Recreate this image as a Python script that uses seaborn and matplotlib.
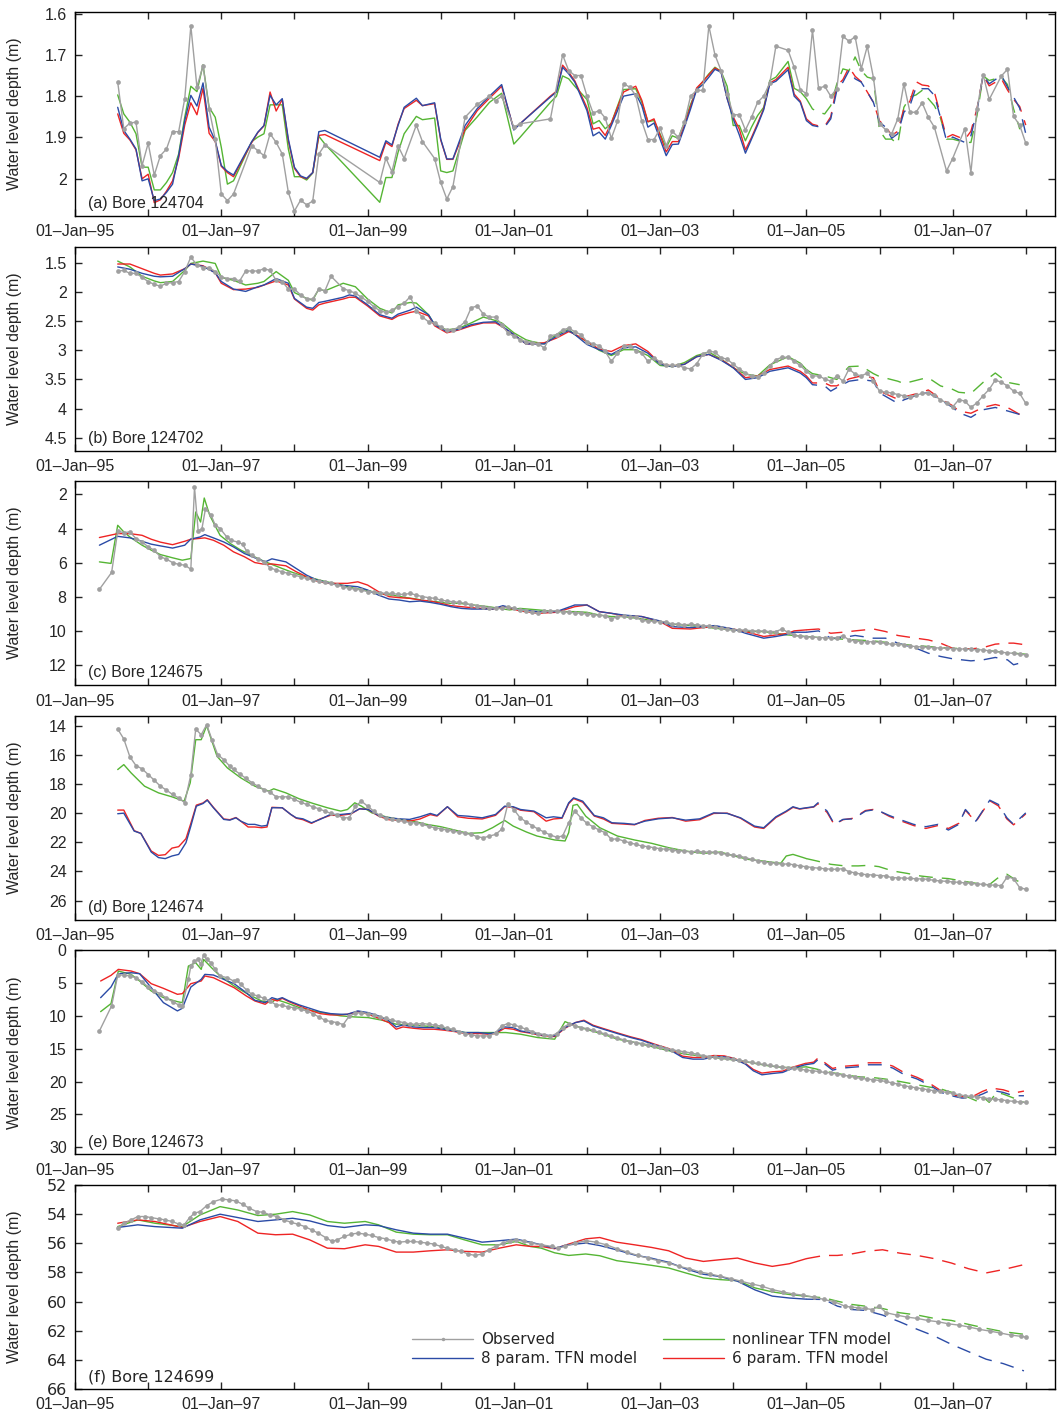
import numpy as np
import matplotlib
matplotlib.use("Agg")
import matplotlib.pyplot as plt
from matplotlib.lines import Line2D
import seaborn as sns

# time axis: months counted from 01-Jan-1995 (0 = Jan 1995)
# models are calibrated up to 01-Jan-2005 (month 120) and drawn dashed after it
CAL_END = 120

# ---------------- (a) Bore 124704 ----------------
a_obs_m = (list(range(7, 27)) + list(range(29, 42))
           + [50, 51, 52, 53, 54, 56, 57, 59, 60, 61, 62, 64, 66, 68, 69, 70, 72, 73, 78, 80, 81, 82, 83]
           + list(range(84, 116)) + list(range(117, 142))
           + [143, 144, 146, 147, 148, 149, 150, 152, 153, 154, 155, 156])
a_obs = ([1.766, 1.879, 1.865, 1.863, 1.968, 1.914, 1.991, 1.944, 1.928, 1.886, 1.886, 1.806, 1.630, 1.778,
          1.726, 1.831, 1.904, 2.037, 2.053, 2.037]
         + [1.920, 1.932, 1.944, 1.891, 1.912, 1.940, 2.033, 2.078, 2.052, 2.063, 2.054, 1.940, 1.918]
         + [2.009, 1.950, 1.983, 1.920, 1.951, 1.870, 1.910, 1.951, 2.009, 2.049, 2.019, 1.851, 1.820, 1.800,
            1.811, 1.800, 1.875, 1.867, 1.855, 1.700, 1.738, 1.750, 1.750]
         + [1.800, 1.841, 1.835, 1.853, 1.902, 1.861, 1.770, 1.778, 1.798, 1.861, 1.905, 1.905, 1.878, 1.920,
            1.885, 1.900, 1.863, 1.800, 1.786, 1.786, 1.630, 1.700, 1.738, 1.794, 1.845, 1.845, 1.882, 1.851,
            1.815, 1.800, 1.768, 1.679]
         + [1.689, 1.730, 1.784, 1.794, 1.640, 1.781, 1.776, 1.800, 1.782, 1.655, 1.667, 1.656, 1.734, 1.679,
            1.755, 1.867, 1.881, 1.891, 1.855, 1.770, 1.839, 1.839, 1.816, 1.851, 1.875]
         + [1.981, 1.951, 1.879, 1.985, 1.831, 1.748, 1.808, 1.751, 1.735, 1.849, 1.870, 1.914])
a_mod_m = (list(range(7, 27)) + list(range(29, 42))
           + [50, 51, 52, 53, 54, 56, 57, 59, 60, 61, 62, 64, 66, 68, 70, 72]
           + [73, 78, 79, 80, 81, 82, 84, 85, 86, 87, 88, 90, 92, 93, 94, 95]
           + list(range(97, 116)) + list(range(117, 145))
           + [146, 147, 148, 149, 150, 152, 153, 154, 155, 156])
a_tfn8 = ([1.827, 1.883, 1.904, 1.928, 2.005, 2.000, 2.053, 2.049, 2.033, 2.013, 1.944, 1.859, 1.798, 1.824,
           1.768, 1.875, 1.908, 1.968, 1.982, 1.991]
          + [1.910, 1.887, 1.871, 1.798, 1.821, 1.806, 1.904, 1.972, 1.993, 1.999, 1.985, 1.886, 1.883]
          + [1.948, 1.908, 1.918, 1.871, 1.827, 1.805, 1.823, 1.816, 1.904, 1.952, 1.952, 1.871, 1.830, 1.800,
             1.772, 1.882]
          + [1.867, 1.802, 1.790, 1.730, 1.746, 1.766, 1.835, 1.896, 1.887, 1.904, 1.871, 1.800, 1.794, 1.823,
             1.875, 1.865]
          + [1.944, 1.917, 1.916, 1.875, 1.831, 1.784, 1.772, 1.754, 1.735, 1.742, 1.806, 1.855, 1.894, 1.938,
             1.904, 1.870, 1.833, 1.770, 1.764]
          + [1.736, 1.800, 1.815, 1.859, 1.871, 1.874, 1.875, 1.855, 1.786, 1.766, 1.738, 1.758, 1.766, 1.790,
             1.815, 1.863, 1.875, 1.902, 1.891, 1.839, 1.823, 1.778, 1.782, 1.782, 1.798, 1.851, 1.908, 1.899]
          + [1.912, 1.896, 1.835, 1.748, 1.770, 1.750, 1.778, 1.802, 1.829, 1.891])
a_tfn6 = ([1.843, 1.890, 1.906, 1.930, 2.000, 1.989, 2.058, 2.051, 2.030, 2.005, 1.950, 1.870, 1.816, 1.845,
           1.781, 1.890, 1.910, 1.970, 1.985, 1.995]
          + [1.912, 1.888, 1.872, 1.790, 1.836, 1.808, 1.908, 1.975, 1.995, 2.000, 1.985, 1.895, 1.893]
          + [1.956, 1.912, 1.922, 1.868, 1.830, 1.810, 1.823, 1.818, 1.906, 1.953, 1.953, 1.880, 1.835, 1.805,
             1.776, 1.880]
          + [1.867, 1.800, 1.788, 1.725, 1.742, 1.763, 1.828, 1.880, 1.876, 1.895, 1.865, 1.790, 1.776, 1.810,
             1.862, 1.855]
          + [1.935, 1.910, 1.910, 1.870, 1.825, 1.780, 1.765, 1.748, 1.732, 1.740, 1.805, 1.850, 1.880, 1.930,
             1.900, 1.866, 1.830, 1.768, 1.760]
          + [1.730, 1.795, 1.812, 1.855, 1.868, 1.872, 1.873, 1.850, 1.775, 1.760, 1.730, 1.752, 1.765, 1.790,
             1.815, 1.860, 1.873, 1.895, 1.885, 1.830, 1.812, 1.765, 1.773, 1.775, 1.790, 1.845, 1.900, 1.893]
          + [1.905, 1.885, 1.830, 1.750, 1.775, 1.758, 1.785, 1.808, 1.825, 1.870])
a_nl = ([1.797, 1.843, 1.863, 1.891, 1.972, 1.972, 2.027, 2.027, 2.009, 1.985, 1.940, 1.851, 1.776, 1.789,
         1.724, 1.827, 1.851, 1.924, 2.013, 2.005]
        + [1.910, 1.899, 1.891, 1.821, 1.821, 1.821, 1.928, 1.995, 1.995, 2.003, 1.986, 1.897, 1.916]
        + [2.057, 1.997, 1.997, 1.936, 1.891, 1.849, 1.857, 1.853, 1.981, 1.985, 1.981, 1.883, 1.850, 1.815,
           1.793, 1.916]
        + [1.900, 1.815, 1.800, 1.751, 1.758, 1.776, 1.808, 1.867, 1.859, 1.879, 1.865, 1.784, 1.782, 1.815,
           1.862, 1.859]
        + [1.924, 1.896, 1.902, 1.862, 1.820, 1.784, 1.765, 1.746, 1.730, 1.740, 1.776, 1.871, 1.871, 1.908,
           1.875, 1.847, 1.827, 1.762, 1.754]
        + [1.716, 1.781, 1.789, 1.806, 1.831, 1.839, 1.843, 1.823, 1.770, 1.734, 1.738, 1.705, 1.738, 1.754,
           1.758, 1.883, 1.904, 1.904, 1.916, 1.827, 1.802, 1.797, 1.786, 1.806, 1.823, 1.853, 1.904, 1.904]
        + [1.912, 1.912, 1.847, 1.751, 1.762, 1.754, 1.772, 1.831, 1.879, 1.855])

# ---------------- (b) Bore 124702 ----------------
b_obs_m = list(range(7, 43)) + list(range(44, 157))
b_obs = ([1.64, 1.63, 1.68, 1.68, 1.75, 1.82, 1.87, 1.90, 1.85, 1.84, 1.82, 1.65, 1.40, 1.54, 1.58, 1.58,
          1.65, 1.74, 1.77, 1.77, 1.81, 1.64, 1.64, 1.64, 1.60, 1.63, 1.80, 1.82, 1.95, 1.95, 2.05, 2.12,
          2.12, 1.95, 1.98, 1.73]
         + [1.94, 1.98, 2.02, 2.09, 2.16, 2.25, 2.32, 2.35, 2.31, 2.25, 2.19, 2.08, 2.32, 2.43, 2.51, 2.53,
            2.60, 2.66, 2.65, 2.60, 2.51, 2.27, 2.24, 2.38, 2.43, 2.43, 2.56, 2.70, 2.76, 2.82, 2.85]
         + [2.87, 2.89, 2.96, 2.75, 2.73, 2.65, 2.62, 2.68, 2.73, 2.85, 2.89, 2.92, 3.02, 3.19, 3.05, 2.92,
            2.93, 3.01, 3.05, 3.19, 3.13, 3.20, 3.26, 3.26, 3.26, 3.30, 3.32, 3.23, 3.07, 3.02, 3.03, 3.13,
            3.15, 3.24, 3.32, 3.39, 3.44, 3.45, 3.39, 3.27, 3.16, 3.12, 3.12, 3.19, 3.26, 3.36, 3.44, 3.44,
            3.49, 3.53, 3.44, 3.53, 3.32, 3.41, 3.44, 3.39, 3.53, 3.70, 3.72, 3.73, 3.76, 3.78, 3.80, 3.77,
            3.74, 3.74, 3.77, 3.85, 3.90, 3.97, 3.85, 3.87, 3.98, 3.90, 3.78, 3.67, 3.51, 3.55, 3.61, 3.70,
            3.74, 3.91])
b_mod_m = [7, 9, 11, 13, 14, 16, 18, 19, 21, 23, 24, 26, 28, 30, 31, 33, 35, 36, 38, 39, 40, 41, 44, 45,
           46, 48, 50, 52, 53, 55, 56, 58, 59, 61, 63, 65, 67, 69, 70, 72, 74, 75,
           77, 79, 81, 82, 84, 86, 88, 90, 92, 94, 96, 98, 100, 102, 104, 106, 108, 110, 112, 114, 117, 119,
           120, 121, 123, 124, 125, 127, 129, 131, 132, 135, 136, 139, 140, 142, 144, 145, 147, 149, 151, 153, 155]
b_tfn8 = [1.57, 1.61, 1.68, 1.73, 1.74, 1.73, 1.60, 1.52, 1.56, 1.67, 1.82, 1.95, 1.99, 1.91, 1.88, 1.77,
          1.85, 2.11, 2.26, 2.28, 2.18, 2.16, 2.09, 2.05, 2.07, 2.22, 2.39, 2.45, 2.38, 2.31, 2.26, 2.39,
          2.56, 2.68, 2.64, 2.56, 2.52, 2.51, 2.58, 2.73, 2.89, 2.89,
          2.89, 2.76, 2.66, 2.73, 2.90, 2.99, 3.07, 2.96, 2.94, 3.05, 3.24, 3.28, 3.24, 3.11, 3.07, 3.17,
          3.30, 3.50, 3.47, 3.36, 3.30, 3.39, 3.47, 3.59, 3.61, 3.70, 3.64, 3.53, 3.50, 3.53, 3.73, 3.91,
          3.85, 3.74, 3.73, 3.85, 3.98, 4.07, 4.15, 4.02, 3.98, 4.04, 4.10]
b_tfn6 = [1.52, 1.52, 1.60, 1.68, 1.71, 1.69, 1.60, 1.52, 1.55, 1.67, 1.85, 1.96, 1.95, 1.92, 1.88, 1.81,
          1.88, 2.12, 2.28, 2.31, 2.22, 2.19, 2.12, 2.09, 2.09, 2.24, 2.41, 2.47, 2.41, 2.35, 2.33, 2.41,
          2.58, 2.70, 2.65, 2.58, 2.53, 2.53, 2.59, 2.73, 2.89, 2.89,
          2.87, 2.79, 2.68, 2.72, 2.85, 2.98, 3.02, 2.92, 2.89, 3.02, 3.23, 3.27, 3.24, 3.11, 3.07, 3.16,
          3.29, 3.47, 3.44, 3.33, 3.27, 3.36, 3.44, 3.56, 3.56, 3.61, 3.61, 3.49, 3.44, 3.47, 3.70, 3.84,
          3.80, 3.72, 3.68, 3.83, 3.95, 4.04, 4.08, 3.98, 3.93, 3.98, 4.10]
b_nl = [1.47, 1.57, 1.73, 1.81, 1.84, 1.82, 1.63, 1.51, 1.47, 1.51, 1.75, 1.80, 1.88, 1.85, 1.82, 1.65,
        1.80, 2.01, 2.11, 2.14, 1.95, 1.98, 1.85, 1.88, 1.91, 2.12, 2.28, 2.36, 2.22, 2.18, 2.19, 2.39,
        2.56, 2.65, 2.62, 2.53, 2.43, 2.49, 2.53, 2.70, 2.82, 2.85,
        2.89, 2.73, 2.64, 2.73, 2.85, 3.00, 3.09, 2.99, 2.99, 3.09, 3.26, 3.28, 3.21, 3.09, 3.03, 3.15,
        3.30, 3.41, 3.44, 3.25, 3.11, 3.22, 3.33, 3.40, 3.44, 3.47, 3.50, 3.28, 3.27, 3.40, 3.45, 3.53,
        3.57, 3.49, 3.47, 3.61, 3.67, 3.72, 3.74, 3.55, 3.39, 3.55, 3.59]

# ---------------- (c) Bore 124675 ----------------
c_obs_m = ([4, 6] + list(range(7, 20))
           + [19.6, 20.2, 20.8, 21.4, 22.3, 23, 23.8, 24.9, 25.6, 26.7, 27.5, 28.2]
           + list(range(29, 157)))
c_obs = ([7.57, 6.58, 4.16, 4.24, 4.20, 4.59, 4.79, 5.08, 5.27, 5.66, 5.80, 6.00, 6.11, 6.15, 6.39]
         + [1.57, 4.12, 4.05, 2.84, 3.20, 3.80, 4.00, 4.50, 4.69, 4.80, 4.92, 5.35]
         + [5.57, 5.80, 5.96, 6.30, 6.44, 6.54, 6.64, 6.74, 6.83, 6.93, 7.03, 7.09, 7.17, 7.22, 7.32, 7.42,
            7.52, 7.56, 7.61, 7.71, 7.71, 7.77, 7.81, 7.81, 7.87, 7.87, 7.81, 7.91, 8.00, 8.06, 8.10, 8.20,
            8.26, 8.30, 8.34, 8.39, 8.49, 8.53, 8.59, 8.65, 8.69, 8.69, 8.59, 8.69, 8.78, 8.84, 8.92, 8.98]
         + [8.85, 8.86, 8.82, 8.88, 8.92, 8.95, 8.98, 9.02, 9.06, 9.10, 9.12, 9.31, 9.17, 9.15, 9.17, 9.20,
            9.40, 9.43, 9.45, 9.47, 9.47, 9.62, 9.60, 9.66, 9.62, 9.66, 9.70, 9.75, 9.80, 9.85, 9.92, 9.95,
            9.95, 9.97, 10.00, 10.02, 10.02, 10.05, 10.05, 9.90, 10.10, 10.25, 10.34, 10.36, 10.38, 10.40,
            10.42, 10.44, 10.40, 10.30, 10.54, 10.60, 10.64, 10.64, 10.66, 10.68, 10.75, 10.79, 10.79, 10.82,
            10.90, 10.93, 10.95, 10.98, 11.00, 11.02, 11.03, 11.05, 11.07, 11.08, 11.10, 11.12, 11.13, 11.18,
            11.22, 11.27, 11.30, 11.33, 11.38, 11.42])
c_mod_right = [73, 76, 79, 82, 84, 86, 88, 90, 93, 96, 98, 101, 103, 105, 108, 110, 113, 115, 117, 118,
               120, 122, 124, 126, 128, 131, 133, 135, 138, 140, 142, 144, 147, 149, 151, 153, 154, 156]
c_mod_m = [4, 7, 9, 11, 12.5, 14, 16, 18, 19, 20.5, 21.3, 22.7, 24.4, 26, 27.8, 29.5, 31.2, 32.3, 34.6,
           36.3, 38, 39.7, 41.4, 43, 44.7, 46.4, 48, 49.8, 51.5, 53.2, 54.9, 56.6, 58.3, 60, 61.7, 63.4,
           65.1, 66.8, 68.5, 70.2, 71.9] + c_mod_right
c_tfn8 = [4.98, 4.46, 4.55, 4.75, 4.92, 5.02, 5.15, 4.98, 4.62, 4.50, 4.36, 4.55, 4.79, 5.08, 5.47, 5.72,
          5.96, 5.78, 5.96, 6.35, 6.74, 7.03, 7.17, 7.32, 7.36, 7.42, 7.61, 7.91, 8.14, 8.20, 8.30, 8.26,
          8.34, 8.45, 8.59, 8.69, 8.73, 8.73, 8.73, 8.53, 8.69,
          8.78, 8.88, 8.88, 8.49, 8.49, 8.88, 8.98, 9.08, 9.17, 9.43, 9.76, 9.82, 9.76, 9.70, 9.90, 10.15,
          10.44, 10.34, 10.21, 10.09, 10.09, 10.01, 10.44, 10.40, 10.28, 10.44, 10.44, 10.73, 11.03, 11.32,
          11.51, 11.65, 11.77, 11.71, 11.57, 11.71, 12.00, 11.81]
c_tfn6 = [4.53, 4.30, 4.30, 4.40, 4.63, 4.80, 4.95, 4.75, 4.63, 4.58, 4.55, 4.69, 4.98, 5.37, 5.66, 6.00,
          6.11, 6.08, 6.19, 6.54, 6.83, 7.09, 7.22, 7.22, 7.22, 7.13, 7.32, 7.71, 8.00, 8.06, 8.10, 8.20,
          8.26, 8.39, 8.53, 8.59, 8.65, 8.69, 8.73, 8.59, 8.73,
          8.84, 8.98, 8.92, 8.59, 8.49, 8.88, 8.98, 9.12, 9.17, 9.47, 9.86, 9.90, 9.82, 9.76, 9.90, 10.05,
          10.34, 10.25, 10.15, 10.01, 9.95, 9.90, 10.15, 10.09, 10.01, 9.90, 10.05, 10.28, 10.44, 10.54,
          10.73, 11.03, 11.07, 10.99, 10.79, 10.73, 10.73, 10.83]
c_nl_m = [4, 5.9, 7, 8, 9, 11, 12.5, 14, 16, 17.6, 19, 19.8, 20.6, 21.2, 22.1, 23.8, 25.5, 27.2, 28.9,
          30.6, 32.3, 34, 35.7, 37.4, 39.1, 40.8, 42.5, 44.2, 45.9, 47.6, 49.3, 51, 52.7, 54.4, 56, 57.7,
          59.4, 61.1, 62.8, 64.5, 66.2, 67.9, 69.6, 71.3] + c_mod_right
c_nl = [5.96, 6.05, 3.81, 4.20, 4.50, 4.98, 5.27, 5.53, 5.72, 5.86, 5.76, 3.03, 3.62, 2.21, 3.23, 4.40,
        4.89, 5.27, 5.57, 5.86, 6.11, 6.35, 6.58, 6.78, 6.93, 7.09, 7.22, 7.36, 7.52, 7.61, 7.75, 7.87,
        7.95, 8.06, 8.14, 8.26, 8.30, 8.39, 8.39, 8.45, 8.53, 8.59, 8.69, 8.78,
        8.69, 8.78, 8.88, 8.88, 8.92, 9.08, 9.17, 9.17, 9.31, 9.47, 9.62, 9.70, 9.76, 9.86, 9.95, 10.05,
        10.05, 10.15, 10.25, 10.28, 10.34, 10.40, 10.44, 10.50, 10.54, 10.60, 10.68, 10.79, 10.87, 10.93,
        10.99, 11.03, 11.07, 11.12, 11.22, 11.26, 11.32, 11.38]

# ---------------- (d) Bore 124674 ----------------
d_obs_m = list(range(7, 19)) + [19, 19.8, 20.7, 21.6, 22.5, 23.4, 24.4, 25.4] + list(range(26, 157))
d_obs = ([14.23, 14.91, 16.14, 16.74, 16.96, 17.35, 17.74, 18.15, 18.42, 18.72, 18.95, 19.29]
         + [17.35, 14.23, 14.62, 13.93, 15.00, 15.98, 16.33, 16.78]
         + [17.00, 17.30, 17.60, 17.90, 18.15, 18.38, 18.56, 18.88, 18.88, 18.88, 19.06, 19.25, 19.40,
            19.56, 19.70, 19.86, 20.02, 20.16, 20.32, 20.32, 19.52, 19.18, 19.52, 19.86, 20.16, 20.32,
            20.43, 20.48, 20.55, 20.66, 20.66, 20.77, 20.89, 21.00, 21.07, 21.16, 21.23, 21.30, 21.39,
            21.46, 21.62, 21.69, 21.57, 21.46, 21.11, 19.40, 19.75]
         + [20.30, 20.60, 20.85, 21.10, 21.30, 21.50, 21.65, 21.57, 20.66, 19.86, 20.32, 20.70, 20.93,
            21.16, 21.34, 21.80, 21.76, 21.91, 22.03, 22.14, 22.25, 22.30, 22.37, 22.44, 22.48, 22.53,
            22.60, 22.60, 22.67, 22.60, 22.67, 22.67, 22.67, 22.76, 22.83, 22.89, 22.94, 23.05, 23.17,
            23.28, 23.35, 23.40]
         + [23.44, 23.51, 23.48, 23.55, 23.62, 23.68, 23.73, 23.78, 23.81, 23.85, 23.85, 23.81, 24.02,
            24.10, 24.19, 24.22, 24.25, 24.28, 24.31, 24.42, 24.44, 24.46, 24.48, 24.50, 24.52, 24.54,
            24.62, 24.65, 24.68, 24.72, 24.75, 24.78, 24.82, 24.86, 24.88, 24.92, 24.95, 24.97, 24.35,
            24.50, 25.11, 25.22])
d_mod_m = [7, 8, 9.7, 10.8, 12.5, 13.7, 14.8, 15.9, 17, 18.2, 19, 19.9, 21, 21.7, 22.7, 24.4, 25.4, 26.4,
           27.2, 28.4, 29.5, 30.6, 31.5, 32.3, 34, 35.4, 36.3, 37.4, 38.8, 40.2, 41.9, 43.6, 45.3, 46.7,
           48.1, 49.8, 51.5, 53.2, 54.9, 56.6, 58.3, 59.4, 61.1, 62.8, 64.5, 66.8, 69, 70.5, 71.9,
           73.1, 75.3, 77.3, 78.5, 79.9, 81, 81.8, 83.3, 85.2, 86.7, 88.1, 90.1, 91.8, 93.5, 95.7, 98,
           100.2, 102.5, 104.8, 107, 109.2, 111.5, 113, 115, 116.7, 117.8, 118.9, 120, 121.2, 121.9, 123.4,
           124.6, 126, 127.7, 129.7, 131.4, 133.6, 135.3, 137.6, 139.6, 141.6, 143.3, 145, 146.1, 147.8,
           148.9, 150.1, 151.5, 152.9, 154, 156]
d_tfn8 = [20.04, 20.00, 21.23, 21.39, 22.67, 23.05, 23.12, 22.94, 22.83, 22.03, 20.89, 19.52, 19.34,
          19.11, 19.63, 20.43, 20.48, 20.32, 20.55, 20.77, 20.77, 20.89, 20.84, 19.63, 19.63, 20.09, 20.32,
          20.39, 20.66, 20.43, 20.09, 20.09, 20.02, 19.70, 19.75, 20.16, 20.32, 20.39, 20.43, 20.25, 20.02,
          20.16, 19.56, 20.16, 20.21, 20.32, 20.09, 19.52, 19.56,
          19.75, 19.86, 20.32, 20.25, 20.32, 19.29, 18.95, 19.18, 20.16, 20.32, 20.66, 20.70, 20.77, 20.55,
          20.39, 20.32, 20.48, 20.39, 19.98, 20.02, 20.32, 20.89, 21.00, 20.25, 19.86, 19.56, 19.70, 19.63,
          19.56, 19.29, 19.86, 20.77, 20.43, 20.39, 19.86, 19.75, 20.16, 20.43, 20.77, 20.93, 20.77, 21.16,
          20.77, 19.75, 20.55, 19.86, 19.11, 19.40, 20.32, 20.77, 19.98]
d_tfn6 = [19.79, 19.79, 21.20, 21.39, 22.60, 22.90, 22.85, 22.40, 22.30, 21.75, 20.70, 19.45, 19.30,
          19.08, 19.60, 20.40, 20.45, 20.30, 20.55, 20.95, 20.95, 21.00, 20.95, 19.60, 19.63, 20.09, 20.35,
          20.45, 20.70, 20.40, 20.15, 20.15, 20.05, 19.70, 19.75, 20.20, 20.45, 20.50, 20.55, 20.40, 20.10,
          20.20, 19.56, 20.25, 20.35, 20.40, 20.15, 19.55, 19.60,
          19.80, 19.90, 20.55, 20.40, 20.35, 19.35, 19.00, 19.25, 20.20, 20.40, 20.70, 20.75, 20.80, 20.50,
          20.35, 20.30, 20.55, 20.45, 20.02, 20.00, 20.35, 20.95, 21.05, 20.30, 19.90, 19.60, 19.72, 19.65,
          19.58, 19.35, 19.95, 20.80, 20.45, 20.35, 19.82, 19.72, 20.22, 20.50, 20.85, 21.05, 20.85, 21.05,
          20.70, 19.80, 20.60, 19.90, 19.15, 19.50, 20.40, 20.80, 20.05]
d_nl_m = [7, 8, 9.2, 11.4, 13.7, 15.9, 17.9, 18.9, 19.8, 20.7, 21.6, 23.3, 25, 27.2, 29.5, 31.8, 32.6,
          34.6, 36.8, 39.1, 41.4, 43.6, 44.7, 45.9, 47, 48.7, 51, 53.2, 55.5, 57.7, 60, 62.3, 64.5, 66.8,
          68.5, 70.5, 71.9, 74.1, 75.8,
          78.7, 80.4, 81, 81.7, 82.4, 83.8, 86.1, 89, 91.8, 94.6, 97.4, 100.2, 103.1, 105.9, 108.2, 110.4,
          112.7, 115, 115.8, 116.7, 117.8, 119.5, 120, 121.7, 124, 126.3, 128.5, 130.2, 131.9, 134.2, 136.5,
          138.7, 141, 143.3, 145.5, 147.8, 148.9, 150.1, 151.5, 152.9, 154.6, 155.7]
d_nl = [17.01, 16.67, 17.24, 18.15, 18.61, 18.88, 19.18, 17.92, 14.96, 14.96, 14.00, 16.10, 16.90, 17.58,
        18.15, 18.49, 18.33, 18.61, 19.02, 19.34, 19.63, 19.86, 19.75, 19.29, 19.52, 19.98, 20.25, 20.43,
        20.55, 20.77, 20.93, 21.16, 21.39, 21.34, 21.00, 20.50, 20.89, 21.30, 21.57,
        21.84, 21.91, 21.34, 19.47, 19.40, 20.21, 21.00, 21.57, 21.84, 22.07, 22.37, 22.60, 22.76, 22.67,
        22.94, 23.17, 23.28, 23.40, 23.44, 22.94, 22.83, 23.05, 23.12, 23.28, 23.51, 23.62, 23.62, 23.58,
        23.67, 23.97, 24.13, 24.31, 24.42, 24.49, 24.65, 24.81, 24.99, 24.88, 24.42, 24.19, 24.65, 24.76]

# ---------------- (e) Bore 124673 ----------------
e_obs_m = ([4, 6, 7, 8, 9, 10, 11, 12, 13, 14, 15, 16, 17, 17.6, 18.6, 19, 19.6, 20.2, 20.6, 21.1, 21.6,
            22.3, 23, 23.8, 25, 26, 26.5, 27.2, 28.2] + list(range(29, 157)))
e_obs = ([12.27, 8.46, 3.75, 3.75, 3.90, 4.16, 4.76, 5.58, 6.18, 6.59, 7.30, 7.81, 8.31, 8.46, 4.41, 2.38,
          1.62, 1.37, 2.13, 0.71, 1.37, 1.88, 2.89, 3.90, 4.16, 4.66, 4.56, 5.17, 6.08]
         + [6.69, 6.94, 7.30, 7.70, 8.31, 8.36, 8.62, 8.72, 8.97, 9.22, 9.63, 10.14, 10.64, 10.85, 11.00,
            11.30, 10.00, 9.58, 9.48, 9.63, 9.83, 10.14, 10.34, 10.64, 10.85, 11.00, 11.25, 11.25, 11.15,
            11.25, 11.40, 11.51, 11.86, 12.01, 12.37, 12.67, 12.87, 13.03, 13.03, 13.03, 12.52, 11.51,
            11.15, 11.35, 11.66, 12.01, 12.37, 12.67]
         + [12.82, 13.08, 12.67, 11.76, 11.25, 11.50, 11.76, 11.91, 12.16, 12.47, 12.72, 13.03, 13.33,
            13.63, 13.89, 14.04, 14.19, 14.39, 14.55, 14.70, 14.95, 15.15, 15.31, 15.46, 15.61, 15.81,
            16.02, 16.17, 16.27, 16.37, 16.47, 16.62, 16.73, 16.93, 17.08, 17.23, 17.38, 17.54, 17.69,
            17.79, 17.89, 17.99, 18.09, 18.25, 18.35, 18.45, 18.60, 18.65, 18.85, 19.01, 19.16, 19.36,
            19.51, 19.61, 19.72, 19.82, 19.97, 20.17, 20.37, 20.63, 20.78, 20.93, 21.08, 21.24, 21.39,
            21.49, 21.64, 21.79, 22.00, 22.15, 22.25, 22.35, 22.45, 22.60, 22.71, 22.76, 22.91, 23.01,
            23.11, 23.16])
e_mod_m = [4.2, 5.9, 7.1, 9.2, 10.6, 12.5, 14.5, 16.8, 17.6, 19, 20.7, 21.3, 22.7, 24.4, 26.1, 28.1,
           29.5, 31.2, 32.3, 33.2, 34, 35.1, 36.8, 38.5, 40.2, 41.9, 43.6, 44.7, 46.4, 48.1, 49.8, 51.5,
           52.7, 53.8, 55.5, 57.2, 58.9, 60.6, 62.3, 64, 66.2, 67.9, 69, 70.5, 71.9,
           73.1, 74.8, 76.5, 78.7, 80.4, 82.1, 83.5, 85, 86.7, 89, 91.2, 92.9, 95.1, 97.4, 99.7, 101.4,
           103.1, 104.8, 106.5, 108.2, 110, 111.3, 112.7, 114.4, 116.1, 117.8, 119.8, 121.2, 122, 122.9,
           124.3, 125.7, 128.5, 130.2, 132.5, 134.2, 135.9, 138.2, 140.4, 142.1, 143.8, 145.5, 147.2, 148.9,
           150.3, 152.3, 154, 155.7]
e_tfn8 = [7.20, 5.58, 3.55, 3.40, 3.55, 5.68, 7.96, 9.22, 8.82, 5.58, 4.41, 3.65, 3.75, 4.41, 5.07, 6.44,
          7.60, 7.96, 7.20, 7.45, 7.20, 7.70, 8.31, 8.82, 9.33, 9.63, 9.73, 9.73, 9.22, 9.48, 9.98, 10.74,
          11.66, 11.35, 11.66, 11.76, 11.76, 12.01, 12.27, 12.52, 12.52, 12.67, 12.52, 11.66, 11.76,
          12.27, 12.52, 12.87, 13.03, 11.76, 11.00, 10.74, 11.51, 12.01, 12.67, 13.28, 13.68, 14.39, 15.05,
          16.32, 16.57, 16.57, 16.22, 16.22, 16.57, 17.33, 18.35, 18.96, 18.76, 18.60, 17.94, 17.43, 17.23,
          16.57, 17.23, 18.25, 17.94, 17.74, 17.43, 17.43, 17.94, 18.85, 19.61, 20.63, 21.64, 22.15, 22.50,
          22.50, 21.89, 21.29, 21.64, 22.15, 22.15]
e_tfn6 = [4.66, 3.80, 2.89, 3.14, 3.55, 5.07, 5.78, 6.69, 6.59, 5.07, 4.66, 3.90, 4.16, 4.92, 5.68, 6.94,
          7.70, 8.21, 7.45, 7.70, 7.30, 7.81, 8.46, 9.12, 9.63, 9.83, 9.83, 9.73, 9.33, 9.73, 10.34, 11.00,
          12.01, 11.66, 11.86, 12.01, 12.01, 12.16, 12.37, 12.67, 12.67, 12.77, 12.67, 11.86, 12.01,
          12.37, 12.62, 12.97, 13.13, 11.86, 11.00, 10.64, 11.40, 11.91, 12.57, 13.18, 13.58, 14.29, 14.95,
          16.12, 16.32, 16.32, 16.02, 16.07, 16.47, 17.23, 18.15, 18.70, 18.50, 18.40, 17.79, 17.23, 17.03,
          16.32, 17.03, 17.99, 17.69, 17.49, 17.13, 17.13, 17.64, 18.55, 19.36, 20.37, 21.39, 21.95, 22.30,
          22.30, 21.49, 20.98, 21.24, 21.74, 21.44]
e_nl_m = [4.2, 5.9, 7.1, 9.2, 10.6, 12.5, 14.5, 16.8, 17.6, 18.6, 19.8, 20.7, 21.1, 22.4, 23.8, 26.1, 28.4,
          30.6, 32.3, 32.9, 34.6, 36.8, 39.1, 41.4, 43.6, 45.9, 48.1, 50.4, 52.7, 54.9, 57.2, 59.4, 61.7,
          64, 66.2, 68.5, 70.7,
          73.1, 75.9, 78.7, 80.4, 82.1, 84.4, 86.7, 89, 91.2, 93.5, 95.7, 98, 100.2, 102.5, 104.8, 107,
          109.3, 111.6, 113.8, 116.1, 118.4, 120, 121.7, 124, 126.3, 128.5, 130.8, 133, 135.3, 137.6, 139.9,
          142.1, 144.4, 146.6, 148.1, 149.2, 150, 151.2, 152.3, 154, 155.7]
e_nl = [9.33, 8.11, 3.14, 3.65, 4.66, 6.18, 7.20, 7.81, 7.96, 2.38, 1.88, 2.89, 1.37, 2.64, 3.90, 5.42,
        6.69, 7.70, 7.96, 7.45, 7.96, 8.72, 9.22, 9.63, 9.98, 10.14, 10.24, 10.64, 11.25, 11.35, 11.51,
        11.66, 12.16, 12.52, 12.52, 12.52, 12.52,
        12.77, 13.28, 13.53, 10.85, 11.51, 12.16, 12.77, 13.53, 13.89, 14.39, 14.90, 15.41, 15.81, 16.07,
        16.32, 16.57, 16.83, 17.23, 17.59, 17.84, 17.84, 17.74, 18.09, 18.60, 18.96, 19.26, 19.36, 19.61,
        19.97, 20.37, 20.78, 21.13, 21.79, 22.40, 23.01, 22.50, 23.16, 21.64, 21.89, 22.50, 23.16]

# ---------------- (f) Bore 124699 ----------------
f_obs_m = [7, 8, 9.2, 10.3, 11.4, 12.5, 13.7, 14.8, 15.9, 17.1, 17.9, 18.8, 19.6, 20.5, 21.6, 22.7, 24.1,
           25.3, 26.4, 27.5, 28.6, 29.8, 30.9, 32, 33.2, 34.3, 35.4, 36.6, 37.7, 38.8, 39.9, 41.1, 42.2, 43,
           44.2, 45.3, 46.4, 47.6, 48.7, 49.8, 51, 52.1, 53.2, 54.4, 55.5, 56.6, 57.7, 58.9, 60, 61.1, 62.3,
           63.4, 64.5, 65.6, 66.8, 67.9, 69, 70.2, 71.3, 72.4,
           73.6, 74.8, 76.5, 78.2, 79.3, 80.4, 82.1, 83.8, 85.5, 87.2, 88.9, 90.6, 92.3, 94, 95.7, 97.4,
           99.1, 100.8, 102.5, 104.2, 105.9, 107.6, 109.3, 111, 112.7, 114.4, 116.1, 117.8, 119.5, 121.2,
           122.9, 124.6, 126.3, 127.4, 128.5, 129.7, 130.8, 131.9, 133.1, 134.8, 136.5, 138.2, 139.9, 141.6,
           143.3, 145, 146.7, 148.4, 150.1, 151.8, 153.5, 155.2, 156]
f_obs = [54.96, 54.62, 54.39, 54.16, 54.16, 54.23, 54.32, 54.39, 54.50, 54.69, 54.73, 54.23, 53.93, 53.82,
         53.41, 53.14, 52.96, 53.02, 53.09, 53.32, 53.59, 53.82, 53.87, 54.05, 54.16, 54.39, 54.55, 54.69,
         54.85, 55.07, 55.30, 55.60, 55.87, 55.76, 55.53, 55.37, 55.30, 55.37, 55.46, 55.60, 55.69, 55.82,
         55.92, 55.87, 55.87, 55.92, 55.98, 56.05, 56.21, 56.33, 56.44, 56.55, 56.73, 56.83, 56.73, 56.44,
         56.21, 55.98, 55.82, 55.76,
         55.87, 55.98, 56.10, 56.21, 56.33, 56.21, 55.98, 55.82, 55.92, 56.10, 56.37, 56.60, 56.83, 57.01,
         57.19, 57.35, 57.58, 57.74, 57.96, 58.10, 58.26, 58.42, 58.60, 58.78, 58.94, 59.17, 59.33, 59.47,
         59.56, 59.69, 59.85, 60.01, 60.31, 60.38, 60.42, 60.47, 60.54, 60.31, 60.76, 60.92, 61.06, 61.15,
         61.29, 61.38, 61.52, 61.61, 61.74, 61.90, 62.02, 62.15, 62.29, 62.38, 62.43]
f_mod_m = [7, 10.3, 13.1, 17.6, 20.5, 23.8, 26.7, 30, 32.9, 35.7, 38.5, 41.4, 44.2, 47.6, 49.8, 52.7, 55.5,
           58.3, 61.1, 63.9, 66.8, 69.6, 72.4, 74.7,
           76.5, 78.7, 81, 83.8, 86.1, 88.9, 91.8, 94.6, 97.4, 100.2, 103.1, 105.9, 108.7, 111.6, 114.4,
           117.2, 120, 122.9, 125.1, 127.4, 129.7, 132.5, 135.3, 138.2, 141, 143.8, 146.6, 149.5, 152.3, 155.7]
f_tfn8 = [54.91, 54.73, 54.85, 54.96, 54.39, 54.00, 54.23, 54.50, 54.39, 54.28, 54.46, 54.78, 54.91, 54.73,
          54.78, 55.07, 55.30, 55.37, 55.37, 55.64, 55.92, 55.82, 55.71, 55.92,
          56.10, 56.33, 56.10, 55.98, 56.15, 56.45, 56.80, 57.02, 57.30, 57.75, 58.12, 58.28, 58.60, 59.20,
          59.62, 59.75, 59.83, 59.85, 60.31, 60.54, 60.60, 60.92, 61.38, 61.90, 62.36, 62.93, 63.43, 63.95,
          64.25, 64.75]
f_tfn6 = [54.62, 54.39, 54.50, 54.91, 54.50, 54.16, 54.50, 55.30, 55.41, 55.37, 55.76, 56.33, 56.37, 56.10,
          56.21, 56.60, 56.60, 56.51, 56.44, 56.55, 56.60, 56.33, 56.10, 56.21,
          56.21, 56.37, 56.05, 55.69, 55.60, 55.92, 56.10, 56.28, 56.51, 57.01, 57.24, 57.12, 57.01, 57.35,
          57.58, 57.40, 57.05, 56.83, 56.83, 56.73, 56.55, 56.44, 56.67, 56.83, 57.05, 57.35, 57.74, 58.03,
          57.80, 57.46]
f_nl = [54.85, 54.39, 54.62, 54.85, 54.05, 53.48, 53.71, 54.09, 54.00, 53.82, 54.05, 54.50, 54.62, 54.50,
        54.73, 55.23, 55.37, 55.41, 55.41, 55.76, 56.10, 56.10, 55.87, 56.21,
        56.33, 56.65, 56.83, 56.73, 56.85, 57.19, 57.35, 57.51, 57.69, 58.03, 58.37, 58.49, 58.56, 59.06,
        59.33, 59.51, 59.63, 59.74, 59.97, 60.19, 60.31, 60.47, 60.76, 60.92, 61.15, 61.29, 61.56, 61.83,
        62.06, 62.24]

# ---------------- styling ----------------
C_OBS = "#a0a0a0"
C_NL = "#55b534"
C_8P = "#2b4ba6"
C_6P = "#ee2424"
DASH = (0, (10, 6.5))

panels = [
    ("(a) Bore 124704", a_obs_m, a_obs, a_mod_m, a_tfn8, a_tfn6, a_mod_m, a_nl,
     (2.09, 1.596), [1.6, 1.7, 1.8, 1.9, 2.0], ["1.6", "1.7", "1.8", "1.9", "2"]),
    ("(b) Bore 124702", b_obs_m, b_obs, b_mod_m, b_tfn8, b_tfn6, b_mod_m, b_nl,
     (4.72, 1.22), [1.5, 2, 2.5, 3, 3.5, 4, 4.5], ["1.5", "2", "2.5", "3", "3.5", "4", "4.5"]),
    ("(c) Bore 124675", c_obs_m, c_obs, c_mod_m, c_tfn8, c_tfn6, c_nl_m, c_nl,
     (13.2, 1.22), [2, 4, 6, 8, 10, 12], None),
    ("(d) Bore 124674", d_obs_m, d_obs, d_mod_m, d_tfn8, d_tfn6, d_nl_m, d_nl,
     (27.32, 13.32), [14, 16, 18, 20, 22, 24, 26], None),
    ("(e) Bore 124673", e_obs_m, e_obs, e_mod_m, e_tfn8, e_tfn6, e_nl_m, e_nl,
     (31.1, 0), [0, 5, 10, 15, 20, 25, 30], None),
    ("(f) Bore 124699", f_obs_m, f_obs, f_mod_m, f_tfn8, f_tfn6, f_mod_m, f_nl,
     (66, 52), [52, 54, 56, 58, 60, 62, 64, 66], None),
]

sns.set_theme(style="ticks")
plt.rcParams["font.family"] = ["Liberation Sans", "DejaVu Sans"]
plt.rcParams["axes.linewidth"] = 1.0


def to_year(m):
    return 1995 + np.asarray(m, dtype=float) / 12.0


def draw_model(ax, m, v, color):
    if len(m) != len(v):
        raise ValueError(f"length mismatch {len(m)} vs {len(v)}")
    m = np.asarray(m, dtype=float)
    v = np.asarray(v, dtype=float)
    k = np.searchsorted(m, CAL_END, side="right") - 1
    sns.lineplot(x=to_year(m[:k + 1]), y=v[:k + 1], ax=ax, color=color, linewidth=1.0,
                 sort=False, estimator=None)
    sns.lineplot(x=to_year(m[k:]), y=v[k:], ax=ax, color=color, linewidth=1.0,
                 linestyle=DASH, sort=False, estimator=None)


fig = plt.figure(figsize=(10.6, 14.16), dpi=100)
years = list(range(1995, 2009))
xlabels = [f"01\u2013Jan\u2013{y % 100:02d}" if y % 2 == 1 else "" for y in years]

for i, (label, om, ov, mm, v8, v6, nm, vn, ylim, yt, ytl) in enumerate(panels):
    bottom = 0.8475 - i * 0.1657
    ax = fig.add_axes([0.0708, bottom, 0.9245, 0.1441])

    draw_model(ax, nm, vn, C_NL)
    draw_model(ax, mm, v6, C_6P)
    draw_model(ax, mm, v8, C_8P)
    if len(om) != len(ov):
        raise ValueError(f"{label}: obs length mismatch {len(om)} vs {len(ov)}")
    sns.lineplot(x=to_year(om), y=np.asarray(ov, float), ax=ax, color=C_OBS, linewidth=1.0,
                 marker="o", markersize=3.4, markeredgewidth=0, markerfacecolor=C_OBS,
                 sort=False, estimator=None)

    ax.set_xlim(1995.0, 2008.40)
    ax.set_ylim(*ylim)
    ax.set_xticks(years)
    ax.set_xticklabels(xlabels)
    ax.set_yticks(yt)
    ax.set_yticklabels(ytl if ytl else [str(t) for t in yt])
    ax.tick_params(direction="in", length=5, width=1, top=True, right=True, labelsize=11.5, pad=6)
    ax.set_xlabel("")
    ax.set_ylabel("Water level depth (m)", fontsize=11.5)
    ax.yaxis.set_label_coords(-0.054, 0.5)
    for s in ax.spines.values():
        s.set_color("black")
        s.set_linewidth(1.0)

    fam = ["DejaVu Sans"] if i == 5 else ["Liberation Sans", "DejaVu Sans"]
    ax.text(0.0133, 0.06, label, transform=ax.transAxes, va="center", ha="left",
            fontsize=11.5, family=fam)
    if i == 5:
        for t in ax.get_yticklabels():
            t.set_family("DejaVu Sans")
        handles = [
            Line2D([], [], color=C_OBS, lw=1.0, marker="o", markersize=2.5, markeredgewidth=0),
            Line2D([], [], color=C_8P, lw=1.0),
            Line2D([], [], color=C_NL, lw=1.0),
            Line2D([], [], color=C_6P, lw=1.0),
        ]
        names = ["Observed", "8 param. TFN model", "nonlinear TFN model", "6 param. TFN model"]
        ax.legend(handles, names, ncol=2, frameon=False, loc="lower left",
                  bbox_to_anchor=(0.333, 0.06), handlelength=4.0, handletextpad=0.5,
                  columnspacing=1.7, labelspacing=0.25, borderpad=0.2,
                  prop={"family": "DejaVu Sans", "size": 11})

fig.savefig("out.png", dpi=100)
